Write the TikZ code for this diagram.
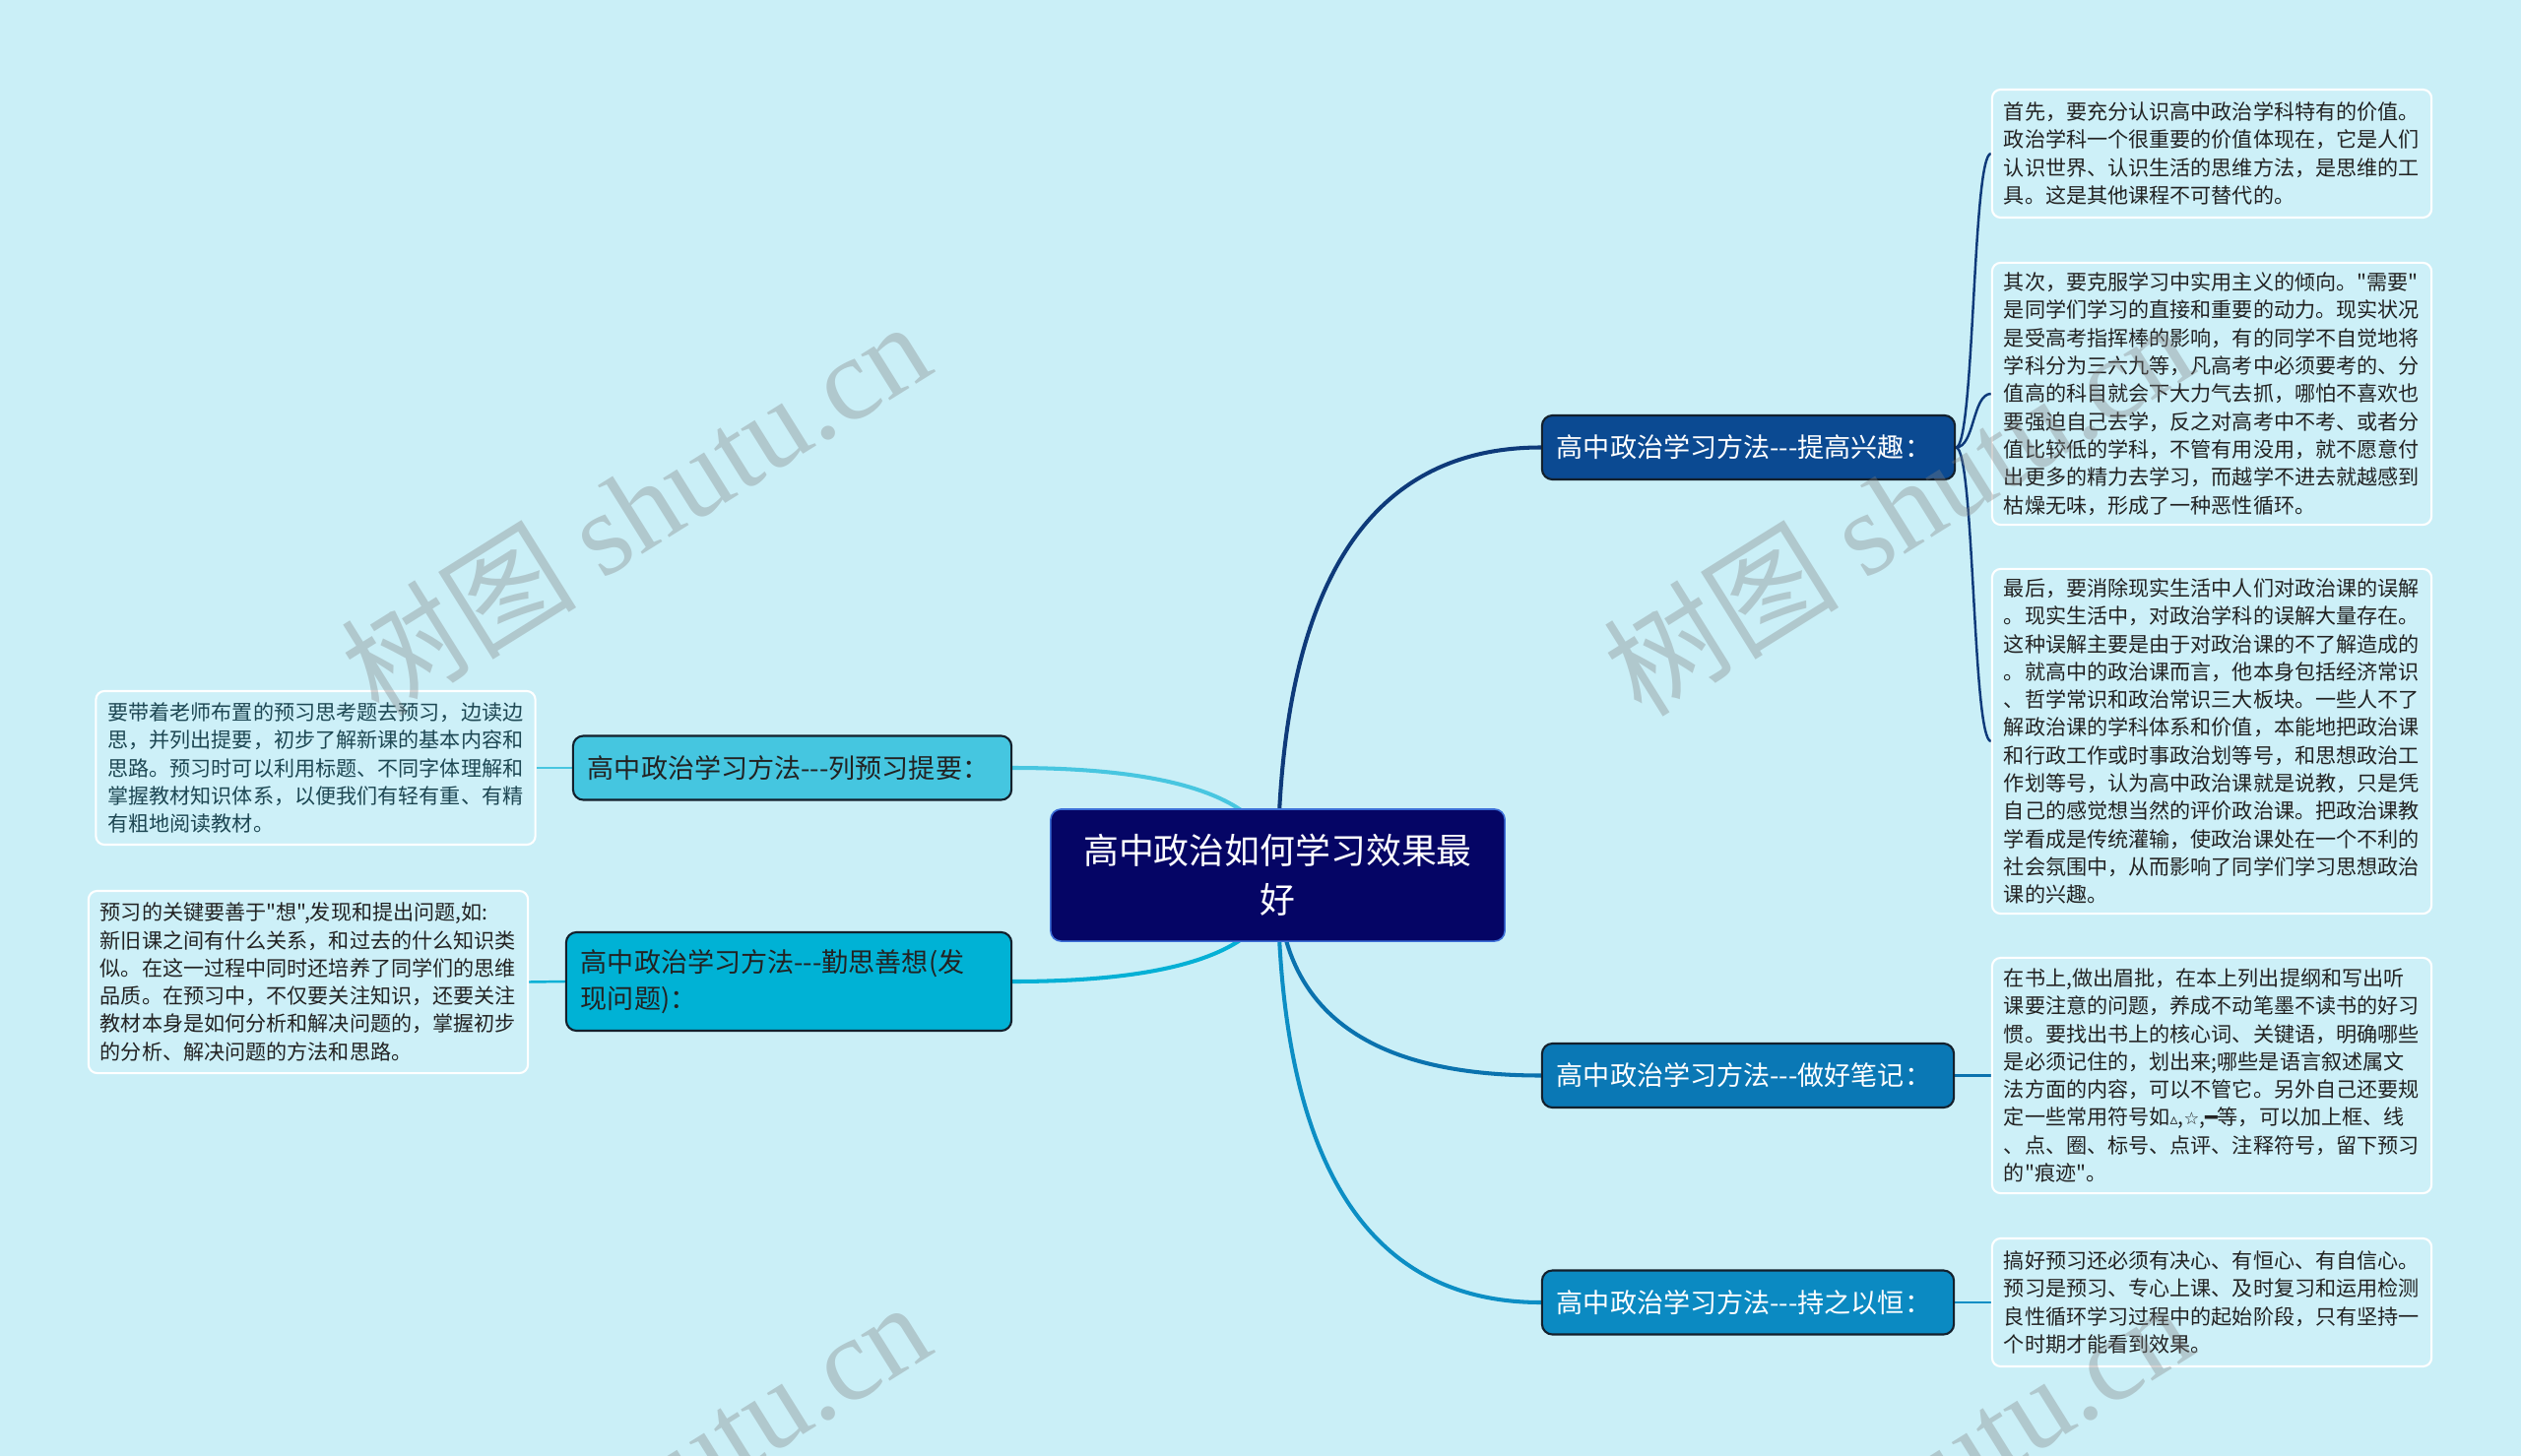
\documentclass[tikz,border=0pt]{standalone}
\usepackage{fontspec}
\newfontfamily\cjk{Noto Sans CJK SC}
\newfontfamily\sym{DejaVu Sans}
\newfontfamily\wmfont{Liberation Serif}
\usetikzlibrary{calc}
\usetikzlibrary{positioning}
\usepackage{xcolor}

\definecolor{paper}{HTML}{CAEFF7}
\definecolor{notefill}{HTML}{CDF0F8}
\definecolor{ink}{HTML}{222222}
\definecolor{inkteal}{HTML}{1D4753}
\definecolor{navy}{HTML}{050565}
\definecolor{navyrim}{HTML}{3D6FD8}
\definecolor{rim}{HTML}{13202C}
\definecolor{fillA}{HTML}{0B4A92}
\definecolor{fillB}{HTML}{0A78B5}
\definecolor{fillC}{HTML}{0B8AC2}
\definecolor{fillD}{HTML}{45C6E0}
\definecolor{fillE}{HTML}{00B2D5}
\definecolor{lineA}{HTML}{0E3A7A}
\definecolor{lineB}{HTML}{0A72AE}
\definecolor{lineC}{HTML}{0C8EC4}
\definecolor{lineD}{HTML}{48C6E0}
\definecolor{lineE}{HTML}{05B0D5}
\definecolor{wmgray}{HTML}{808080}

\pgfdeclarelayer{back}
\pgfdeclarelayer{front}
\pgfsetlayers{back,main,front}

\begin{document}
\begin{tikzpicture}[x=0.01cm, y=-0.01cm,
		topic/.style = {rectangle, rounded corners=3pt, fill=navy, draw=navyrim, line width=0.45pt, text=white, align=center, minimum width=4.61cm, minimum height=1.34cm, font=\cjk\fontsize{10.2pt}{14.2pt}\selectfont},
		sub/.style = {rectangle, rounded corners=3pt, draw=rim, line width=0.6pt, align=left, inner xsep=0.15cm, inner ysep=0pt, minimum height=0.65cm, font=\cjk\fontsize{7.7pt}{10.5pt}\selectfont},
		note/.style = {rectangle, rounded corners=2.5pt, draw=white, line width=0.6pt, fill=notefill, text=ink, align=left, text width=4.22cm, inner xsep=0.12cm, inner ysep=0pt, font=\cjk\fontsize{6pt}{8.05pt}\selectfont},
		link/.style = {line width=1.15pt},
		twig/.style = {line width=0.7pt},
		wm/.style = {text=wmgray, opacity=0.35, rotate=32, font=\cjk\fontsize{34pt}{34pt}\selectfont}
		]
		\useasboundingbox (0,0) rectangle (2560,1479);
		
		%Root
		\node[topic]	(root)	at	(1297.5, 889)	{高中政治如何学习效果最\\好};
		
		%Branches
		\node[sub, fill=fillA, text=white, text width=3.89cm]	(b1)	at	(1775.5, 454.5)	{高中政治学习方法---提高兴趣：};
		\node[sub, fill=fillB, text=white, text width=3.88cm]	(b2)	at	(1775, 1092.5)	{高中政治学习方法---做好笔记：};
		\node[sub, fill=fillC, text=white, text width=3.88cm]	(b3)	at	(1775, 1323)	{高中政治学习方法---持之以恒：};
		\node[sub, fill=fillD, text=ink, text width=4.15cm]	(b4)	at	(804.5, 780)	{高中政治学习方法---列预习提要：};
		\node[sub, fill=fillE, text=ink, text width=4.22cm, minimum height=1cm]	(b5)	at	(801, 997)	{高中政治学习方法---勤思善想(发\\现问题)：};
		
		%Notes
		\node[note, minimum height=1.30cm]	(r1)	at	(2246, 156)	{首先，要充分认识高中政治学科特有的价值。\\政治学科一个很重要的价值体现在，它是人们\\认识世界、认识生活的思维方法，是思维的工\\具。这是其他课程不可替代的。};
		\node[note, minimum height=2.66cm]	(r2)	at	(2246, 400)	{其次，要克服学习中实用主义的倾向。"需要"\\是同学们学习的直接和重要的动力。现实状况\\是受高考指挥棒的影响，有的同学不自觉地将\\学科分为三六九等，凡高考中必须要考的、分\\值高的科目就会下大力气去抓，哪怕不喜欢也\\要强迫自己去学，反之对高考中不考、或者分\\值比较低的学科，不管有用没用，就不愿意付\\出更多的精力去学习，而越学不进去就越感到\\枯燥无味，形成了一种恶性循环。};
		\node[note, minimum height=3.50cm]	(r3)	at	(2246, 753)	{最后，要消除现实生活中人们对政治课的误解\\。现实生活中，对政治学科的误解大量存在。\\这种误解主要是由于对政治课的不了解造成的\\。就高中的政治课而言，他本身包括经济常识\\、哲学常识和政治常识三大板块。一些人不了\\解政治课的学科体系和价值，本能地把政治课\\和行政工作或时事政治划等号，和思想政治工\\作划等号，认为高中政治课就是说教，只是凭\\自己的感觉想当然的评价政治课。把政治课教\\学看成是传统灌输，使政治课处在一个不利的\\社会氛围中，从而影响了同学们学习思想政治\\课的兴趣。};
		\node[note, minimum height=2.39cm]	(r4)	at	(2246, 1092.5)	{在书上,做出眉批，在本上列出提纲和写出听\\课要注意的问题，养成不动笔墨不读书的好习\\惯。要找出书上的核心词、关键语，明确哪些\\是必须记住的，划出来;哪些是语言叙述属文\\法方面的内容，可以不管它。另外自己还要规\\定一些常用符号如{\sym\fontsize{4.5pt}{4.5pt}\selectfont ▵},{\sym\fontsize{5pt}{5pt}\selectfont ☆},{\sym ━}等，可以加上框、线\\、点、圈、标号、点评、注释符号，留下预习\\的"痕迹"。};
		\node[note, minimum height=1.30cm]	(r5)	at	(2246, 1323)	{搞好预习还必须有决心、有恒心、有自信心。\\预习是预习、专心上课、及时复习和运用检测\\良性循环学习过程中的起始阶段，只有坚持一\\个时期才能看到效果。};
		\node[note, text=inkteal, minimum height=1.56cm]	(l1)	at	(320.5, 780)	{要带着老师布置的预习思考题去预习，边读边\\思，并列出提要，初步了解新课的基本内容和\\思路。预习时可以利用标题、不同字体理解和\\掌握教材知识体系，以便我们有轻有重、有精\\有粗地阅读教材。};
		\node[note, minimum height=1.85cm]	(l2)	at	(313, 997.5)	{预习的关键要善于"想",发现和提出问题,如:\\新旧课之间有什么关系，和过去的什么知识类\\似。在这一过程中同时还培养了同学们的思维\\品质。在预习中，不仅要关注知识，还要关注\\教材本身是如何分析和解决问题的，掌握初步\\的分析、解决问题的方法和思路。};
		
		%Lines
		\begin{pgfonlayer}{back}
			\fill[paper] (0,0) rectangle (2560,1479);
			\foreach \b/\a/\c in {b1/west/lineA, b2/west/lineB, b3/west/lineC, b4/east/lineD, b5/east/lineE}
				\draw[link, \c] (root.center) .. controls ($(root.center)!2/3!(root.center |- \b.\a)$) and ($(\b.\a)!2/3!(root.center |- \b.\a)$) .. (\b.\a);
			\foreach \n in {r1, r2, r3}
				\draw[twig, lineA] (b1.east) .. controls +(19,0) and +(-19,0) .. (\n.west);
			\draw[twig, lineB]	(b2.east)	--	(r4.west);
			\draw[twig, lineC]	(b3.east)	--	(r5.west);
			\draw[twig, lineD]	(b4.west)	--	(l1.east);
			\draw[twig, lineE]	(b5.west)	--	(l2.east);
		\end{pgfonlayer}
		
		%Watermark
		\begin{pgfonlayer}{front}
			\begin{scope}
				\clip (0,0) rectangle (2560,1479);
				\foreach \x/\y [count=\i] in {645/515, 1927/515, 645/1511, 1927/1511}
					\node[wm]	(wm\i)	at	(\x, \y)	{树图 {\wmfont shutu.cn}};
			\end{scope}
		\end{pgfonlayer}
	\end{tikzpicture}
\end{document}
